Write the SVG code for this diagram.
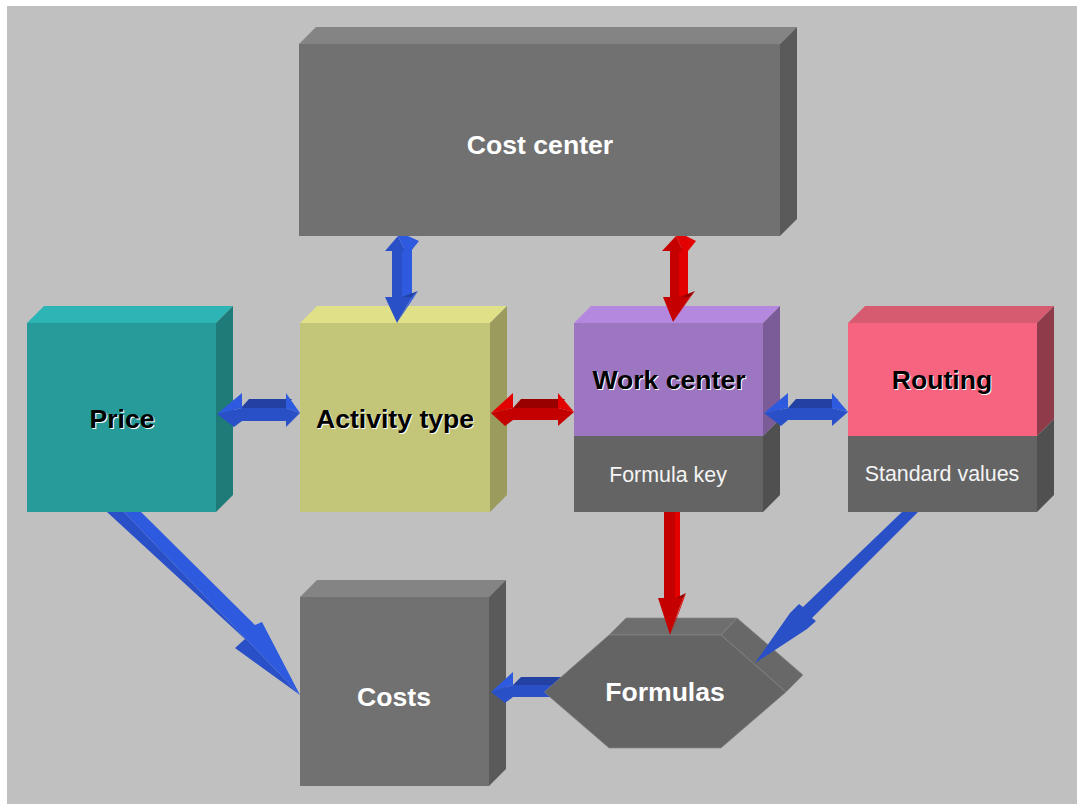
<svg xmlns="http://www.w3.org/2000/svg" width="1077" height="804" viewBox="0 0 1077 804">
<style>
.lbl{font-family:"Liberation Sans",Arial,sans-serif;font-weight:bold;font-size:26.6px;text-anchor:middle}
.sub{font-family:"Liberation Sans",Arial,sans-serif;font-size:21.4px;text-anchor:middle;fill:#f4f4f4}
.w{fill:#fff}.k{fill:#000}.sh{fill:#fff}
.gf{fill:#717171}.gt{fill:#848484}.gr{fill:#5a5a5a}
.lf{fill:#646464}.lr{fill:#505050}
.tf{fill:#269b99}.tt{fill:#2db5b5}.tr{fill:#1e7b78}
.yf{fill:#c3c578}.yt{fill:#e0e088}.yr{fill:#9b9b5e}
.pf{fill:#9c76c1}.pt{fill:#b388de}.pr{fill:#7b5c99}
.rf{fill:#f7647f}.rt{fill:#d75b70}.rr{fill:#8f3b4a}
.bm{fill:#2a50c8}.bl{fill:#2d5ade}.bd{fill:#2241a2}
.rm{fill:#c40000}.rl{fill:#e20000}.rd{fill:#980000}
.hx{stroke:#858585;stroke-width:0.7}
</style>
<rect x="0" y="0" width="1077" height="804" fill="#ffffff"/>
<rect x="7" y="6" width="1070" height="798" fill="#c0c0c0"/>

<g id="cost-center">
<polygon class="gt" points="299,44 316,27 797,27 780,44"/>
<polygon class="gr" points="780,44 797,27 797,219 780,236"/>
<rect class="gf" x="299" y="44" width="481" height="192"/>
<text class="lbl w" x="540" y="154">Cost center</text>
</g>

<g id="price">
<polygon class="tt" points="27,323 44,306 233,306 216,323"/>
<polygon class="tr" points="216,323 233,306 233,495 216,512"/>
<rect class="tf" x="27" y="323" width="189" height="189"/>
<text class="lbl sh" x="123" y="429">Price</text>
<text class="lbl k" x="122" y="428">Price</text>
</g>

<g id="activity-type">
<polygon class="yt" points="300,323 317,306 507,306 490,323"/>
<polygon class="yr" points="490,323 507,306 507,495 490,512"/>
<rect class="yf" x="300" y="323" width="190" height="189"/>
<text class="lbl sh" x="396" y="429">Activity type</text>
<text class="lbl k" x="395" y="428">Activity type</text>
</g>

<g id="work-center">
<polygon class="pt" points="574,323 591,306 780,306 763,323"/>
<polygon class="pr" points="763,323 780,306 780,419 763,436"/>
<polygon class="lr" points="763,436 780,419 780,495 763,512"/>
<rect class="pf" x="574" y="323" width="189" height="113"/>
<rect class="lf" x="574" y="436" width="189" height="76"/>
<text class="lbl sh" x="670" y="390">Work center</text>
<text class="lbl k" x="669" y="389">Work center</text>
<text class="sub" x="668" y="482">Formula key</text>
</g>

<g id="routing">
<polygon class="rt" points="848,323 865,306 1054,306 1037,323"/>
<polygon class="rr" points="1037,323 1054,306 1054,419 1037,436"/>
<polygon class="lr" points="1037,436 1054,419 1054,495 1037,512"/>
<rect class="rf" x="848" y="323" width="189" height="113"/>
<rect class="lf" x="848" y="436" width="189" height="76"/>
<text class="lbl sh" x="943" y="390">Routing</text>
<text class="lbl k" x="942" y="389">Routing</text>
<text class="sub" x="942" y="481">Standard values</text>
</g>

<g id="costs">
<polygon class="gt" points="300,597 317,580 506,580 489,597"/>
<polygon class="gr" points="489,597 506,580 506,769 489,786"/>
<rect class="gf" x="300" y="597" width="189" height="189"/>
<text class="lbl w" x="394" y="706">Costs</text>
</g>

<g id="formulas">
<polygon class="hx" fill="#6e6e6e" points="609,635 626,618 737,618 721,635"/>
<polygon class="hx" fill="#686868" points="721,635 737,618 803,675 786,692"/>
<polygon class="hx" fill="#646464" points="609,635 721,635 786,692 721,748 609,748 544,692"/>
<text class="lbl w" x="665" y="701">Formulas</text>
</g>

<g id="connectors">
<!-- Cost center <-> Activity type (blue) -->
<g id="c-cc-at">
<rect class="bm" x="392" y="250" width="10" height="48"/>
<rect class="bl" x="402" y="248" width="10" height="50"/>
<polygon class="bm" points="385,251 398,236 405,251"/>
<polygon class="bl" points="398,236 408,236 419,241 411,251 405,251"/>
<polygon class="bm" points="385,297 412,297 397,323"/>
<polygon class="bd" points="402,297 418,291 412,297"/>
<polygon class="bl" points="412,297 418,291 399,320"/>
</g>
<!-- Cost center <-> Work center (red) -->
<g id="c-cc-wc">
<rect class="rm" x="670" y="250" width="9" height="48"/>
<rect class="rl" x="679" y="248" width="9" height="50"/>
<polygon class="rm" points="662,251 676,236 683,251"/>
<polygon class="rl" points="676,236 686,236 696,241 688,251 683,251"/>
<polygon class="rm" points="663,297 690,297 673,322"/>
<polygon class="rd" points="680,297 695,291 690,297"/>
<polygon class="rl" points="690,297 695,291 675,319"/>
</g>
<!-- Price <-> Activity type (blue) -->
<g id="c-pr-at">
<polygon class="bd" points="241,408 249,399 292,399 286,408"/>
<rect class="bm" x="241" y="408" width="46" height="13"/>
<polygon class="bl" points="217,414 242,393 242,408"/>
<polygon class="bm" points="217,414 242,408 242,421 234,427"/>
<polygon class="bl" points="286,393 300,413 286,408"/>
<polygon class="bm" points="286,408 300,413 286,427"/>
</g>
<!-- Activity type <-> Work center (red) -->
<g id="c-at-wc">
<polygon class="rd" points="513,408 521,399 565,399 558,408"/>
<rect class="rm" x="513" y="408" width="46" height="12"/>
<polygon class="rl" points="491,413 513,393 513,408"/>
<polygon class="rm" points="491,413 513,408 513,420 505,426"/>
<polygon class="rl" points="558,393 574,412 558,408"/>
<polygon class="rm" points="558,408 574,412 558,426"/>
</g>
<!-- Work center <-> Routing (blue) -->
<g id="c-wc-ro">
<polygon class="bd" points="788,408 796,399 838,399 832,408"/>
<rect class="bm" x="788" y="408" width="45" height="12"/>
<polygon class="bl" points="764,413 788,393 788,408"/>
<polygon class="bm" points="764,413 788,408 788,420 781,426"/>
<polygon class="bl" points="832,393 848,412 832,408"/>
<polygon class="bm" points="832,408 848,412 832,426"/>
</g>
<!-- Work center -> Formulas (red) -->
<g id="c-wc-fo">
<rect class="rm" x="664" y="512" width="11" height="87"/>
<rect class="rl" x="675" y="512" width="5" height="87"/>
<polygon class="rm" points="658,598 683,598 670,635"/>
<polygon class="rd" points="676,598 686,593 683,598"/>
<polygon class="rl" points="683,598 686,593 672,632"/>
</g>
<!-- Formulas -> Costs (blue) -->
<g id="c-fo-co">
<polygon class="bd" points="513,685 521,677 561,677 552,685"/>
<polygon class="bm" points="513,685 552,685 544,692 550,697 513,697"/>
<polygon class="bl" points="491,692 513,672 513,685"/>
<polygon class="bm" points="491,692 513,685 513,697 505,703"/>
</g>
<!-- Price -> Costs (blue) -->
<g id="c-pr-co">
<polygon class="bm" points="107,512 124,512 300,695 235,648 245,639"/>
<polygon class="bl" points="124,512 141,512 255,625 262,622 300,695"/>
</g>
<!-- Routing -> Formulas (blue) -->
<g id="c-ro-fo">
<polygon class="bm" points="902,512 918,512 812,618 816,621 807,629 755,663 790,613 799,604 803,607"/>
</g>
</g>
</svg>
